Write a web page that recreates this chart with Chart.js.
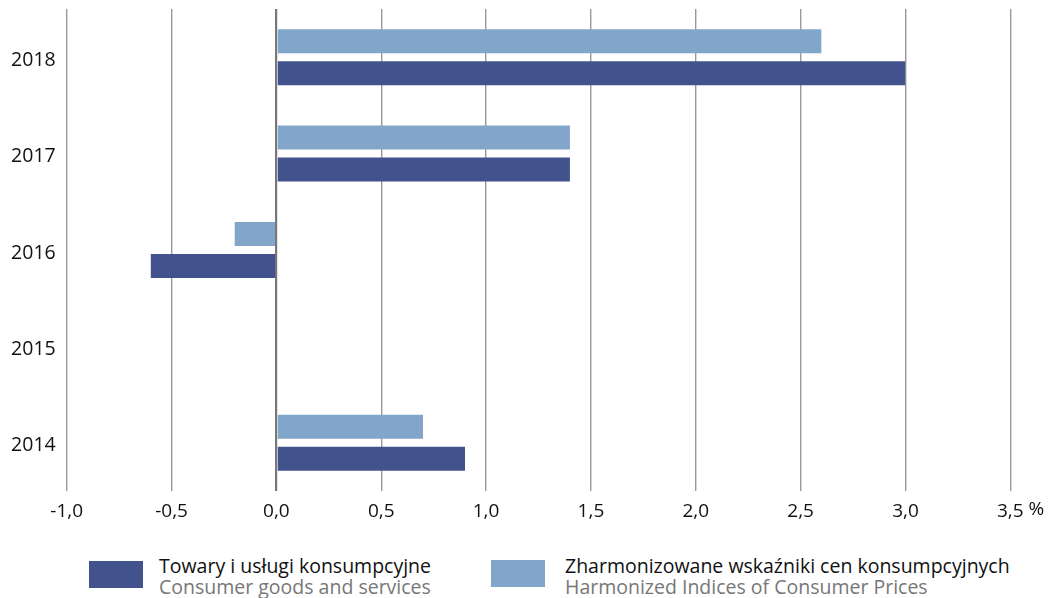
<!DOCTYPE html>
<html>
<head>
<meta charset="utf-8">
<script src="https://cdn.jsdelivr.net/npm/chart.js@4.4.1/dist/chart.umd.min.js"></script>
<style>
  html, body { margin: 0; padding: 0; background: #fff; }
  body { width: 1049px; height: 598px; position: relative; overflow: hidden; font-family: "Open Sans", sans-serif; }
  #wrap { position: absolute; left: 0; top: 0; width: 1049px; height: 540px; }
  .box { position: absolute; width: 54px; height: 27px; }
  .txt { position: absolute; font-size: 19.5px; line-height: 21px; white-space: nowrap; }
  .pl { color: #111; }
  .en { color: #777; }
</style>
</head>
<body>
<div id="wrap"><canvas id="c"></canvas></div>
<div id="legend"></div>
<script>
const categories = ['2018', '2017', '2016', '2015', '2014'];
const hicpValues = [2.6, 1.4, -0.2, null, 0.7];      // Zharmonizowane wskaźniki cen konsumpcyjnych
const cpiValues = [3.0, 1.4, -0.6, null, 0.9];       // Towary i usługi konsumpcyjne
const seriesNamesPl = ['Towary i usługi konsumpcyjne', 'Zharmonizowane wskaźniki cen konsumpcyjnych'];
const seriesNamesEn = ['Consumer goods and services', 'Harmonized Indices of Consumer Prices'];
const xMin = -1.0, xMax = 3.5, xStep = 0.5;
const unitLabel = '%';

const DARK = '#42528c';
const LIGHT = '#82a6ca';
const FONT = '"Open Sans", sans-serif';

const percentPlugin = {
  id: 'percentUnit',
  afterDraw(chart) {
    const xs = chart.scales.x;
    const ctx = chart.ctx;
    const last = xs.ticks[xs.ticks.length - 1];
    const px = xs.getPixelForValue(last.value);
    ctx.save();
    ctx.font = '19px ' + FONT;
    const lbl = xs.options.ticks.callback(last.value);
    const w = ctx.measureText(lbl).width;
    ctx.fillStyle = '#111';
    ctx.textAlign = 'left';
    ctx.textBaseline = 'top';
    const y = chart.chartArea.bottom + xs.options.ticks.padding;
    ctx.fillText(' ' + unitLabel, px + w / 2, y);
    ctx.restore();
  }
};

new Chart(document.getElementById('c'), {
  type: 'bar',
  data: {
    labels: categories,
    datasets: [
      { label: seriesNamesPl[1], data: hicpValues, backgroundColor: LIGHT,
        borderColor: 'rgba(0,0,0,0)', borderWidth: { top: 4, bottom: 4, left: 0, right: 0 }, borderSkipped: false },
      { label: seriesNamesPl[0], data: cpiValues, backgroundColor: DARK,
        borderColor: 'rgba(0,0,0,0)', borderWidth: { top: 4, bottom: 4, left: 0, right: 0 }, borderSkipped: false }
    ]
  },
  options: {
    indexAxis: 'y',
    responsive: true,
    maintainAspectRatio: false,
    animation: false,
    layout: { padding: { left: 0, right: 38.7, top: 9, bottom: 0 } },
    plugins: { legend: { display: false }, tooltip: { enabled: false } },
    datasets: { bar: { categoryPercentage: 0.664, barPercentage: 1.0 } },
    scales: {
      x: {
        type: 'linear', min: xMin, max: xMax,
        afterFit(scale) { scale.height = 49; scale.paddingLeft = 0; scale.paddingRight = 0; },
        ticks: {
          stepSize: xStep, padding: 9, color: '#111',
          font: { family: FONT, size: 19 },
          callback: (v) => Number(v).toFixed(1).replace('.', ',')
        },
        grid: {
          drawTicks: false,
          color: (ctx) => (ctx.tick && ctx.tick.value === 0) ? '#777' : '#999',
          lineWidth: (ctx) => (ctx.tick && ctx.tick.value === 0) ? 2.2 : 1.4
        },
        border: { display: false }
      },
      y: {
        afterFit(scale) { scale.width = 66.7; scale.paddingTop = 0; scale.paddingBottom = 0; },
        ticks: { padding: 11, labelOffset: 3, color: '#111', font: { family: FONT, size: 19.5 } },
        grid: { display: false, drawTicks: false },
        border: { display: false }
      }
    }
  },
  plugins: [percentPlugin]
});

// HTML legend
const legend = document.getElementById('legend');
const items = [
  { color: DARK, pl: seriesNamesPl[0], en: seriesNamesEn[0], boxX: 89, boxY: 561, txtX: 159 },
  { color: LIGHT, pl: seriesNamesPl[1], en: seriesNamesEn[1], boxX: 491, boxY: 560, txtX: 565 }
];
items.forEach(it => {
  const b = document.createElement('div');
  b.className = 'box';
  b.style.left = it.boxX + 'px'; b.style.top = it.boxY + 'px'; b.style.background = it.color;
  legend.appendChild(b);
  const t = document.createElement('div');
  t.className = 'txt';
  t.style.left = it.txtX + 'px'; t.style.top = '555px';
  t.innerHTML = '<div class="pl"></div><div class="en"></div>';
  t.children[0].textContent = it.pl;
  t.children[1].textContent = it.en;
  legend.appendChild(t);
});
</script>
</body>
</html>
